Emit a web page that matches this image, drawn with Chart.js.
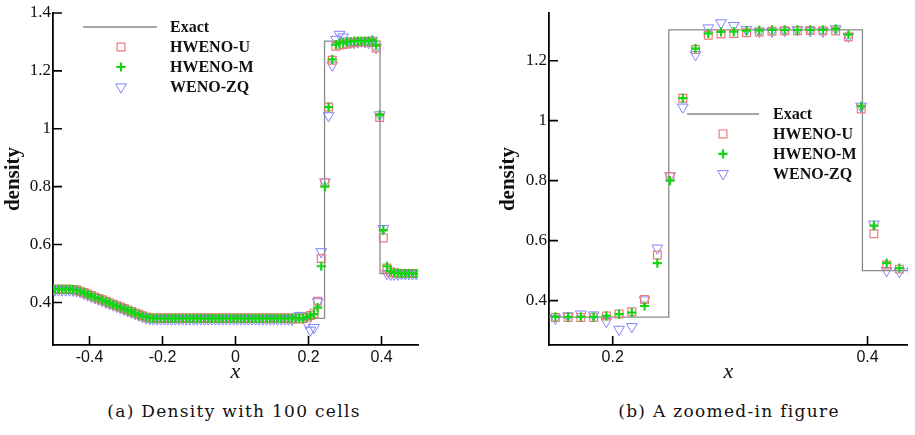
<!DOCTYPE html>
<html>
<head>
<meta charset="utf-8">
<script src="https://cdn.jsdelivr.net/npm/chart.js@4.4.0/dist/chart.umd.min.js"></script>
<style>
  body { margin: 0; background: #fff; width: 915px; height: 435px; overflow: hidden; position: relative; }
  canvas { position: absolute; top: 0; }
  #chartA { left: 0; }
  #chartB { left: 460px; }
  .cap { position: absolute; top: 401px; font-family: "DejaVu Serif", serif; font-size: 17px; letter-spacing: 1.3px; color: #111; white-space: nowrap; transform: translateX(-50%); }
</style>
</head>
<body>
<canvas id="chartA" width="460" height="400"></canvas>
<canvas id="chartB" width="455" height="400"></canvas>
<div class="cap" style="left:234px">(a) Density with 100 cells</div>
<div class="cap" style="left:729px">(b) A zoomed-in figure</div>
<script>
// --- DATA ---
const legendLabels = ['Exact', 'HWENO-U', 'HWENO-M', 'WENO-ZQ'];

// cell centres, 100 cells on [-0.5, 0.5]
const cellX = [
  -0.495, -0.485, -0.475, -0.465, -0.455, -0.445, -0.435, -0.425, -0.415, -0.405,
  -0.395, -0.385, -0.375, -0.365, -0.355, -0.345, -0.335, -0.325, -0.315, -0.305,
  -0.295, -0.285, -0.275, -0.265, -0.255, -0.245, -0.235, -0.225, -0.215, -0.205,
  -0.195, -0.185, -0.175, -0.165, -0.155, -0.145, -0.135, -0.125, -0.115, -0.105,
  -0.095, -0.085, -0.075, -0.065, -0.055, -0.045, -0.035, -0.025, -0.015, -0.005,
  0.005, 0.015, 0.025, 0.035, 0.045, 0.055, 0.065, 0.075, 0.085, 0.095,
  0.105, 0.115, 0.125, 0.135, 0.145, 0.155, 0.165, 0.175, 0.185, 0.195,
  0.205, 0.215, 0.225, 0.235, 0.245, 0.255, 0.265, 0.275, 0.285, 0.295,
  0.305, 0.315, 0.325, 0.335, 0.345, 0.355, 0.365, 0.375, 0.385, 0.395,
  0.405, 0.415, 0.425, 0.435, 0.445, 0.455, 0.465, 0.475, 0.485, 0.495
];

const hwenoU = [
  0.446, 0.446, 0.446, 0.446, 0.446, 0.445, 0.443, 0.439, 0.434, 0.429,
  0.424, 0.419, 0.414, 0.409, 0.404, 0.399, 0.394, 0.389, 0.384, 0.379,
  0.374, 0.369, 0.364, 0.359, 0.354, 0.350, 0.347, 0.346, 0.346, 0.346,
  0.346, 0.346, 0.346, 0.346, 0.346, 0.346, 0.346, 0.346, 0.346, 0.346,
  0.346, 0.346, 0.346, 0.346, 0.346, 0.346, 0.346, 0.346, 0.346, 0.346,
  0.346, 0.346, 0.346, 0.346, 0.346, 0.346, 0.346, 0.346, 0.346, 0.346,
  0.346, 0.346, 0.346, 0.346, 0.346, 0.344, 0.344, 0.344, 0.344, 0.349,
  0.355, 0.363, 0.404, 0.552, 0.814, 1.075, 1.237, 1.285, 1.289, 1.291,
  1.293, 1.296, 1.298, 1.300, 1.300, 1.301, 1.300, 1.299, 1.279, 1.039,
  0.623, 0.519, 0.505, 0.502, 0.501, 0.500, 0.500, 0.500, 0.500, 0.500
];

const hwenoM = [
  0.445, 0.445, 0.445, 0.445, 0.445, 0.444, 0.442, 0.438, 0.433, 0.428,
  0.423, 0.418, 0.413, 0.408, 0.403, 0.398, 0.393, 0.388, 0.383, 0.378,
  0.373, 0.368, 0.363, 0.358, 0.353, 0.349, 0.346, 0.345, 0.345, 0.345,
  0.345, 0.345, 0.345, 0.345, 0.345, 0.345, 0.345, 0.345, 0.345, 0.345,
  0.345, 0.345, 0.345, 0.345, 0.345, 0.345, 0.345, 0.345, 0.345, 0.345,
  0.345, 0.345, 0.345, 0.345, 0.345, 0.345, 0.345, 0.345, 0.345, 0.345,
  0.345, 0.345, 0.345, 0.345, 0.345, 0.346, 0.346, 0.346, 0.346, 0.349,
  0.355, 0.360, 0.382, 0.525, 0.800, 1.075, 1.240, 1.291, 1.296, 1.297,
  1.300, 1.301, 1.303, 1.303, 1.303, 1.303, 1.303, 1.306, 1.287, 1.048,
  0.650, 0.525, 0.508, 0.502, 0.501, 0.500, 0.500, 0.500, 0.500, 0.500
];

const wenoZQ = [
  0.443, 0.443, 0.443, 0.443, 0.443, 0.442, 0.440, 0.436, 0.431, 0.426,
  0.421, 0.416, 0.411, 0.406, 0.401, 0.396, 0.391, 0.386, 0.381, 0.376,
  0.371, 0.366, 0.361, 0.356, 0.351, 0.347, 0.344, 0.343, 0.343, 0.343,
  0.343, 0.343, 0.343, 0.343, 0.343, 0.343, 0.343, 0.343, 0.343, 0.343,
  0.343, 0.343, 0.343, 0.343, 0.343, 0.343, 0.343, 0.343, 0.343, 0.343,
  0.343, 0.343, 0.343, 0.343, 0.343, 0.343, 0.343, 0.343, 0.343, 0.343,
  0.343, 0.343, 0.343, 0.343, 0.343, 0.341, 0.349, 0.355, 0.352, 0.330,
  0.304, 0.313, 0.402, 0.575, 0.816, 1.045, 1.220, 1.309, 1.326, 1.317,
  1.303, 1.298, 1.298, 1.300, 1.303, 1.300, 1.298, 1.306, 1.281, 1.048,
  0.655, 0.500, 0.497, 0.497, 0.498, 0.499, 0.499, 0.499, 0.499, 0.499
];

// exact solution polyline
const exactX = [-0.5, -0.44, -0.42, -0.40, -0.37, -0.34, -0.31, -0.28, -0.25, -0.238, 0.244, 0.244, 0.396, 0.396, 0.5];
const exactY = [0.445, 0.445, 0.435, 0.425, 0.410, 0.395, 0.380, 0.365, 0.350, 0.345, 0.345, 1.303, 1.303, 0.500, 0.500];

// ticks
const xTicksA = [-0.4, -0.2, 0, 0.2, 0.4];
const xTickLabelsA = ['-0.4', '-0.2', '0', '0.2', '0.4'];
const yTicksA = [0.4, 0.6, 0.8, 1, 1.2, 1.4];
const yTickLabelsA = ['0.4', '0.6', '0.8', '1', '1.2', '1.4'];
const xTicksB = [0.2, 0.4];
const xTickLabelsB = ['0.2', '0.4'];
const yTicksB = [0.4, 0.6, 0.8, 1, 1.2];
const yTickLabelsB = ['0.4', '0.6', '0.8', '1', '1.2'];

// --- STYLES ---
const SQUARE = { pointStyle: 'rect', radius: 5.5, rotation: 0, borderWidth: 1.2, color: '#ec7c7c' };
const PLUS = { pointStyle: 'cross', radius: 4.6, rotation: 0, borderWidth: 2.2, color: '#14d414' };
const TRI = { pointStyle: 'triangle', radius: 6.2, rotation: 180, borderWidth: 1, color: '#8282ff' };
const EXACT_COLOR = '#8a8a8a';

const pts = (xs, ys) => xs.map((x, i) => ({ x, y: ys[i] }));

function markerSet(label, ys, st, order) {
  return {
    label, data: pts(cellX, ys), order,
    showLine: false,
    pointStyle: st.pointStyle, pointRadius: st.radius, pointRotation: st.rotation,
    pointBorderWidth: st.borderWidth, pointBorderColor: st.color,
    pointBackgroundColor: 'rgba(0,0,0,0)', pointHoverRadius: st.radius
  };
}

// inward tick marks + legend drawn inside the plot
const innerDeco = {
  id: 'innerDeco',
  afterDraw(chart, args, o) {
    const { ctx, chartArea: a, scales: { x, y } } = chart;
    ctx.save();
    ctx.strokeStyle = '#000';
    ctx.lineWidth = 1.6;
    ctx.beginPath();
    x.ticks.forEach(t => { const px = x.getPixelForValue(t.value); ctx.moveTo(px, a.bottom); ctx.lineTo(px, a.bottom - 9); });
    y.ticks.forEach(t => { const py = y.getPixelForValue(t.value); ctx.moveTo(a.left, py); ctx.lineTo(a.left + 9, py); });
    ctx.stroke();

    const L = o.legend;
    ctx.font = 'bold 16px "Liberation Serif", serif';
    ctx.fillStyle = '#111';
    ctx.textBaseline = 'middle';
    ctx.textAlign = 'left';
    legendLabels.forEach((lab, i) => {
      const ry = L.y0 + i * L.dy;
      ctx.fillText(lab, L.textX, ry + 1);
      if (i === 0) {
        ctx.strokeStyle = EXACT_COLOR; ctx.lineWidth = 1.3;
        ctx.beginPath(); ctx.moveTo(L.lineX0, ry); ctx.lineTo(L.lineX1, ry); ctx.stroke();
      } else {
        const st = [SQUARE, PLUS, TRI][i - 1];
        ctx.strokeStyle = st.color; ctx.lineWidth = st.borderWidth;
        ctx.fillStyle = 'rgba(0,0,0,0)';
        Chart.helpers.drawPoint(ctx, st, L.markX, ry);
        ctx.fillStyle = '#111';
      }
    });
    ctx.restore();
  }
};

function makeChart(id, cfg) {
  const serifTicks = { family: '"Liberation Serif", serif', size: 17 };
  const sansTicks = { family: '"Liberation Sans", Arial, sans-serif', size: 16 };
  return new Chart(document.getElementById(id), {
    type: 'scatter',
    data: {
      datasets: [
        markerSet('HWENO-M', hwenoM, PLUS, 0),
        markerSet('HWENO-U', hwenoU, SQUARE, 1),
        markerSet('WENO-ZQ', wenoZQ, TRI, 2),
        { label: 'Exact', data: pts(exactX, exactY), order: 3, showLine: true, pointRadius: 0,
          borderColor: EXACT_COLOR, borderWidth: 1.3, clip: 0 }
      ]
    },
    options: {
      responsive: false, animation: false, devicePixelRatio: 1,
      layout: { padding: { left: 0, right: cfg.padRight, top: 13, bottom: 0 } },
      plugins: { legend: { display: false }, tooltip: { enabled: false }, innerDeco: { legend: cfg.legend } },
      scales: {
        x: {
          type: 'linear', min: cfg.xMin, max: cfg.xMax,
          afterBuildTicks: s => { s.ticks = cfg.xTicks.map(v => ({ value: v })); },
          afterFit: s => { s.height = 55; },
          grid: { display: false, drawTicks: false },
          border: { display: true, color: '#000', width: 1.8 },
          ticks: { color: '#111', font: sansTicks, padding: 3, maxRotation: 0, callback: (v, i) => cfg.xLabels[i] },
          title: { display: true, text: 'x', color: '#111', font: { family: '"Liberation Serif", serif', size: 22, style: 'italic' }, padding: { top: 0, bottom: 15 } }
        },
        y: {
          type: 'linear', min: cfg.yMin, max: cfg.yMax,
          afterBuildTicks: s => { s.ticks = cfg.yTicks.map(v => ({ value: v })); },
          afterFit: s => { s.width = cfg.yWidth; },
          grid: { display: false, drawTicks: false },
          border: { display: true, color: '#000', width: 1.8 },
          ticks: { color: '#111', font: serifTicks, padding: 2, callback: (v, i) => cfg.yLabels[i] },
          title: { display: true, text: 'density', color: '#111', font: { family: '"Liberation Serif", serif', size: 21, weight: 'bold' }, padding: { top: cfg.yTitlePad, bottom: cfg.yTitlePad } }
        }
      }
    },
    plugins: [innerDeco]
  });
}

makeChart('chartA', {
  xMin: -0.5, xMax: 0.5, yMin: 0.253, yMax: 1.4,
  xTicks: xTicksA, xLabels: xTickLabelsA, yTicks: yTicksA, yLabels: yTickLabelsA,
  yWidth: 53, padRight: 42, yTitlePad: 0.7,
  legend: { lineX0: 83, lineX1: 157, markX: 121, textX: 170, y0: 27, dy: 20 }
});

makeChart('chartB', {
  xMin: 0.15, xMax: 0.4316, yMin: 0.252, yMax: 1.359,
  xTicks: xTicksB, xLabels: xTickLabelsB, yTicks: yTicksB, yLabels: yTickLabelsB,
  yWidth: 89, padRight: 0, yTitlePad: 35.7,
  legend: { lineX0: 227, lineX1: 299, markX: 263, textX: 313, y0: 114, dy: 19.9 }
});
</script>
</body>
</html>
